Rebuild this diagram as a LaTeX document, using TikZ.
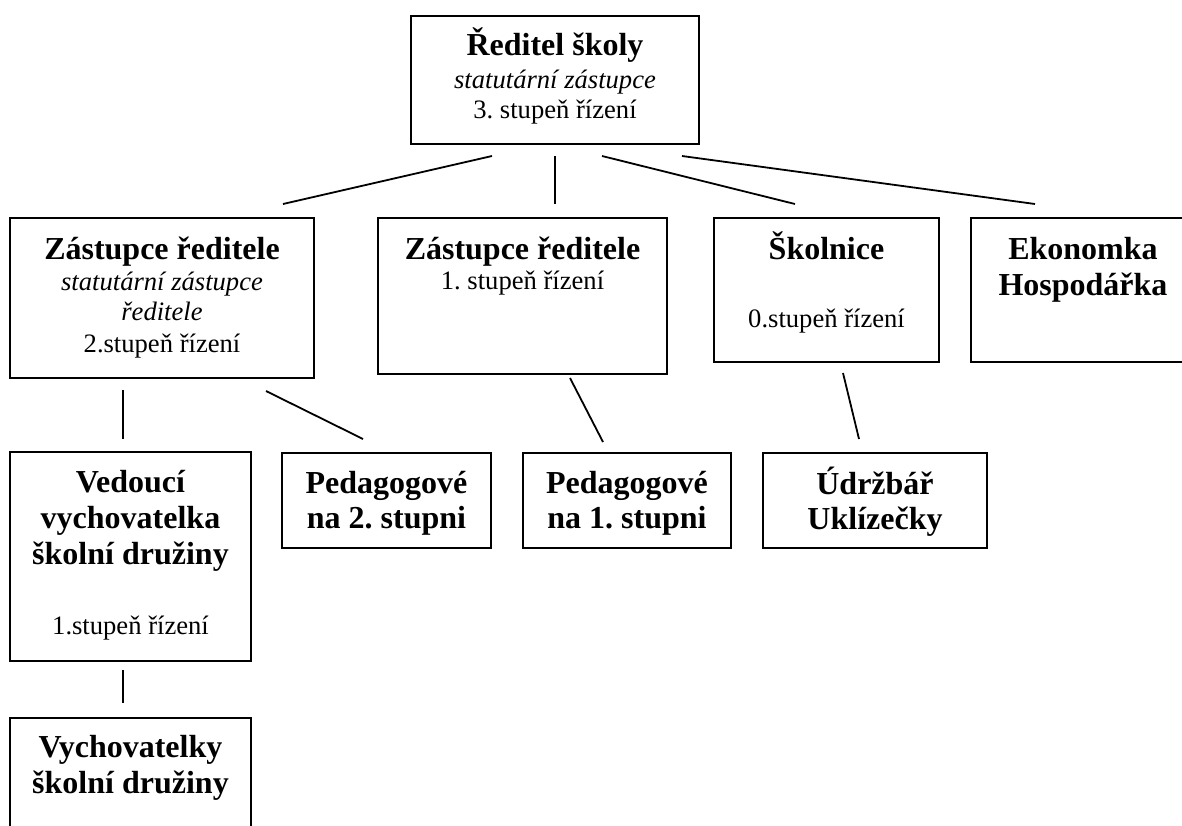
\documentclass[tikz,border=0pt]{standalone}
\usepackage{fontspec}
\setmainfont{Liberation Serif}
\usetikzlibrary{fit}
\frenchspacing
\tikzset{
  orgbox/.style={draw, line width=1.1pt, inner sep=0pt},
  tb/.style={anchor=base, inner sep=0pt, font=\fontsize{16pt}{18pt}\selectfont\bfseries},
  tr/.style={anchor=base, inner sep=0pt, font=\fontsize{13.3pt}{16pt}\selectfont},
  ti/.style={anchor=base, inner sep=0pt, font=\fontsize{13.3pt}{16pt}\selectfont\itshape},
  conn/.style={line width=0.9pt}
}
\begin{document}
\begin{tikzpicture}[x=0.5pt,y=-0.5pt]
\clip (0,0) rectangle (1182,825);
\fill[white] (0,0) rectangle (1182,825);

% boxes
\node[orgbox, fit={(411,16) (699,144)}] (top) {};
\node[orgbox, fit={(10,218) (314,378)}] (zr2) {};
\node[orgbox, fit={(378,218) (667,374)}] (zr1) {};
\node[orgbox, fit={(714,218) (939,362)}] (skol) {};
\node[orgbox, fit={(971,218) (1195,362)}] (ekon) {};
\node[orgbox, fit={(10,452) (251,661)}] (ved) {};
\node[orgbox, fit={(282,453) (491,548)}] (ped2) {};
\node[orgbox, fit={(523,453) (731,548)}] (ped1) {};
\node[orgbox, fit={(763,453) (987,548)}] (udr) {};
\node[orgbox, fit={(10,718) (251,845)}] (vych) {};

% texts
\node[tb] (topa) at (555,55) {Ředitel školy};
\node[ti] (topb) at (555,88) {statutární zástupce};
\node[tr] (topc) at (555,118) {3. stupeň řízení};

\node[tb] (zr2a) at (162,259) {Zástupce ředitele};
\node[ti] (zr2b) at (162,290) {statutární zástupce};
\node[ti] (zr2c) at (162,320) {ředitele};
\node[tr] (zr2d) at (162,352) {2.stupeň řízení};

\node[tb] (zr1a) at (522.5,259) {Zástupce ředitele};
\node[tr] (zr1b) at (522.5,289) {1. stupeň řízení};

\node[tb] (skola) at (826.5,259) {Školnice};
\node[tr] (skolb) at (826.5,327) {0.stupeň řízení};

\node[tb] (ekona) at (1083,259) {Ekonomka};
\node[tb] (ekonb) at (1083,295) {Hospodářka};

\node[tb] (veda) at (130.5,492) {Vedoucí};
\node[tb] (vedb) at (130.5,528) {vychovatelka};
\node[tb] (vedc) at (130.5,564) {školní družiny};
\node[tr] (vedd) at (130.5,634) {1.stupeň řízení};

\node[tb] (ped2a) at (386.5,493) {Pedagogové};
\node[tb] (ped2b) at (386.5,528) {na 2. stupni};

\node[tb] (ped1a) at (627,493) {Pedagogové};
\node[tb] (ped1b) at (627,528) {na 1. stupni};

\node[tb] (udra) at (875,494) {Údržbář};
\node[tb] (udrb) at (875,529) {Uklízečky};

\node[tb] (vycha) at (130.5,757) {Vychovatelky};
\node[tb] (vychb) at (130.5,793) {školní družiny};

% connector end points
\coordinate (c1s) at (492,156); \coordinate (c1e) at (283,204);
\coordinate (c2s) at (555,156); \coordinate (c2e) at (555,204);
\coordinate (c3s) at (602,156); \coordinate (c3e) at (795,204);
\coordinate (c4s) at (682,156); \coordinate (c4e) at (1035,204);
\coordinate (c5s) at (123,390); \coordinate (c5e) at (123,439);
\coordinate (c6s) at (266,391); \coordinate (c6e) at (363,439);
\coordinate (c7s) at (570,378); \coordinate (c7e) at (603,442);
\coordinate (c8s) at (843,373); \coordinate (c8e) at (859,439);
\coordinate (c9s) at (123,670); \coordinate (c9e) at (123,703);

\draw[conn] (c1s) -- (c1e);
\draw[conn] (c2s) -- (c2e);
\draw[conn] (c3s) -- (c3e);
\draw[conn] (c4s) -- (c4e);
\draw[conn] (c5s) -- (c5e);
\draw[conn] (c6s) -- (c6e);
\draw[conn] (c7s) -- (c7e);
\draw[conn] (c8s) -- (c8e);
\draw[conn] (c9s) -- (c9e);
\end{tikzpicture}
\end{document}
